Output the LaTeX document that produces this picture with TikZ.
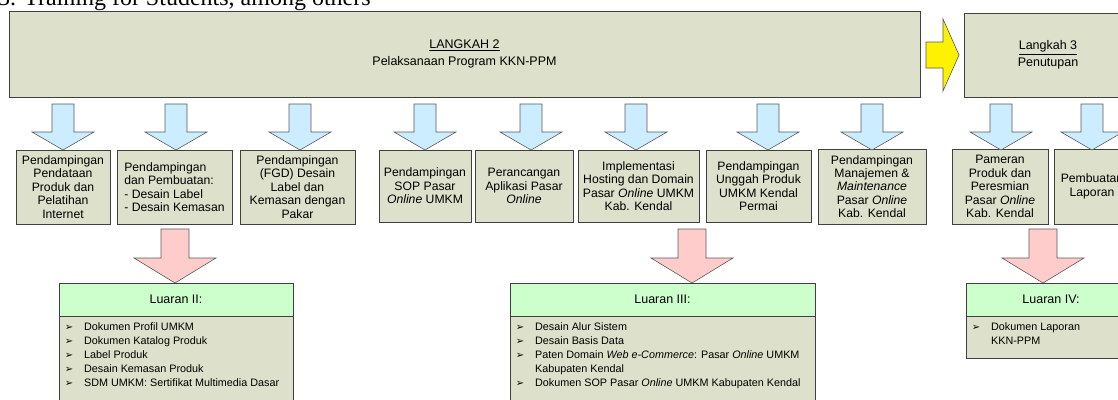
\documentclass[tikz,border=0pt]{standalone}
\usepackage{fontspec}
\setmainfont{Liberation Sans}
\newfontfamily\titlefont{Liberation Serif}
\newfontfamily\dingfont{DejaVu Sans}
\usetikzlibrary{positioning}

\definecolor{boxfill}{RGB}{221,224,203}
\definecolor{boxline}{RGB}{64,64,64}
\definecolor{bluefill}{RGB}{204,236,255}
\definecolor{pinkfill}{RGB}{255,204,204}
\definecolor{greenfill}{RGB}{204,255,204}
\definecolor{arrowline}{RGB}{90,90,90}

\tikzset{
  stagebox/.style={draw=boxline, line width=0.8pt, fill=boxfill, inner sep=2pt,
    align=center, font=\fontsize{12.5}{16.5}\selectfont},
  rowbox/.style={draw=boxline, line width=0.8pt, fill=boxfill, inner sep=2pt,
    align=center, font=\fontsize{12.2}{13.4}\selectfont},
  headbox/.style={draw=boxline, line width=0.8pt, fill=greenfill, inner sep=0pt,
    font=\fontsize{12.5}{14}\selectfont},
  bodybox/.style={draw=boxline, line width=0.8pt, fill=boxfill, inner sep=0pt},
  listtext/.style={anchor=north west, inner sep=0pt, align=left,
    font=\fontsize{10.8}{14}\selectfont},
  bluearrow/.style={draw=arrowline, line width=0.6pt, fill=bluefill},
  pinkarrow/.style={draw=arrowline, line width=0.6pt, fill=pinkfill},
  yellowarrow/.style={draw=arrowline, line width=0.6pt, fill=yellow},
}

% block arrow pointing down: centre x, top, head start, tip, half shaft, half head
\newcommand{\downblock}[7]{%
  \path[#7] (#1-#5,#2) -- (#1+#5,#2) -- (#1+#5,#3) -- (#1+#6,#3) -- (#1,#4)
    -- (#1-#6,#3) -- (#1-#5,#3) -- cycle;}
\newcommand{\bul}{{\dingfont\fontsize{10}{14}\selectfont ➢}}

\begin{document}
\begin{tikzpicture}[x=1pt,y=-1pt]
\useasboundingbox (0,0) rectangle (1118,399);

% heading line of the page above the chart
\node[anchor=base west, inner sep=0pt, font=\titlefont\fontsize{24}{24}\selectfont]
  (pagehead) at (-2,5) {3. Training for Students, among others};

% stage boxes
\node[stagebox, minimum width=911pt, minimum height=86pt] (step2) at (464.5,54)
  {\underline{LANGKAH 2}\\Pelaksanaan Program KKN-PPM};
\node[stagebox, minimum width=168pt, minimum height=84pt] (step3) at (1048,55)
  {\underline{Langkah 3}\\Penutupan};

% yellow arrow between the stages
\path[yellowarrow] (926,42) -- (943,42) -- (943,19) -- (959,55) -- (943,91)
  -- (943,68) -- (926,68) -- cycle;

% activity boxes
\node[rowbox, minimum width=94pt, minimum height=74pt] (a1) at (63,187)
  {Pendampingan\\Pendataan\\Produk dan\\Pelatihan\\Internet};
\node[rowbox, minimum width=115pt, minimum height=74pt, align=left] (a2) at (174.5,187)
  {Pendampingan\\dan Pembuatan:\\- Desain Label\\- Desain Kemasan};
\node[rowbox, minimum width=115pt, minimum height=74pt] (a3) at (297.5,187)
  {Pendampingan\\(FGD) Desain\\Label dan\\Kemasan dengan\\Pakar};
\node[rowbox, minimum width=92pt, minimum height=72pt] (a4) at (425,186)
  {Pendampingan\\SOP Pasar\\\textit{Online} UMKM};
\node[rowbox, minimum width=98pt, minimum height=72pt] (a5) at (524,186)
  {Perancangan\\Aplikasi Pasar\\\textit{Online}};
\node[rowbox, minimum width=121pt, minimum height=72pt] (a6) at (638.5,186)
  {Implementasi\\Hosting dan Domain\\Pasar \textit{Online} UMKM\\Kab. Kendal};
\node[rowbox, minimum width=105pt, minimum height=72pt] (a7) at (758.5,186)
  {Pendampingan\\Unggah Produk\\UMKM Kendal\\Permai};
\node[rowbox, minimum width=108pt, minimum height=75pt] (a8) at (872,186.5)
  {Pendampingan\\Manajemen \&\\\textit{Maintenance}\\Pasar \textit{Online}\\Kab. Kendal};
\node[rowbox, minimum width=96pt, minimum height=75pt] (a9) at (1000,186.5)
  {Pameran\\Produk dan\\Peresmian\\Pasar \textit{Online}\\Kab. Kendal};
\node[rowbox, minimum width=76pt, minimum height=75pt] (a10) at (1092,186.5)
  {Pembuatan\\Laporan};

% blue arrows from the stages to the activities
\foreach \cx in {63,176,300,425,531,636,768,872,1001,1092}
  \downblock{\cx}{104}{132}{150}{11}{31}{bluearrow};

% pink arrows from the activities to the outputs
\foreach \cx in {175,692,1043}
  \downblock{\cx}{229}{258}{283}{14}{41}{pinkarrow};

% output boxes: header and body
\node[headbox, minimum width=234pt, minimum height=33pt] (out2) at (176,299.5) {Luaran II:};
\node[bodybox, minimum width=234pt, minimum height=100pt, anchor=north] (out2b) at (out2.south) {};
\node[listtext] (out2l) at ([xshift=6pt,yshift=-4pt]out2b.north west)
  {\begin{tabular}{@{}l@{\hspace{11pt}}l@{}}
   \bul & Dokumen Profil UMKM\\
   \bul & Dokumen Katalog Produk\\
   \bul & Label Produk\\
   \bul & Desain Kemasan Produk\\
   \bul & SDM UMKM: Sertifikat Multimedia Dasar
   \end{tabular}};

\node[headbox, minimum width=305pt, minimum height=33pt] (out3) at (662.5,299.5) {Luaran III:};
\node[bodybox, minimum width=305pt, minimum height=100pt, anchor=north] (out3b) at (out3.south) {};
\node[listtext] (out3l) at ([xshift=6pt,yshift=-4pt]out3b.north west)
  {\begin{tabular}{@{}l@{\hspace{11pt}}l@{}}
   \bul & Desain Alur Sistem\\
   \bul & Desain Basis Data\\
   \bul & Paten Domain \textit{Web e-Commerce}: Pasar \textit{Online} UMKM\\
        & Kabupaten Kendal\\
   \bul & Dokumen SOP Pasar \textit{Online} UMKM Kabupaten Kendal
   \end{tabular}};

\node[headbox, minimum width=170pt, minimum height=33pt] (out4) at (1051,299.5) {Luaran IV:};
\node[bodybox, minimum width=170pt, minimum height=42pt, anchor=north] (out4b) at (out4.south) {};
\node[listtext] (out4l) at ([xshift=6pt,yshift=-4pt]out4b.north west)
  {\begin{tabular}{@{}l@{\hspace{11pt}}l@{}}
   \bul & Dokumen Laporan\\
        & KKN-PPM
   \end{tabular}};
\end{tikzpicture}
\end{document}
